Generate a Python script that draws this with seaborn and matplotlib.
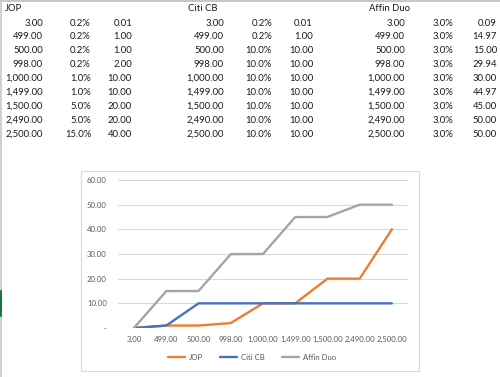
import pandas as pd
import matplotlib.pyplot as plt
import seaborn as sns
from matplotlib.lines import Line2D
from matplotlib.patches import Rectangle

# ---------------------------------------------------------------
# Daten (aus der Tabelle abgelesen)
# ---------------------------------------------------------------
amount_labels = ["3.00", "499.00", "500.00", "998.00", "1,000.00",
                 "1,499.00", "1,500.00", "2,490.00", "2,500.00"]

jop_rate = ["0.2%", "0.2%", "0.2%", "0.2%", "1.0%", "1.0%", "5.0%", "5.0%", "15.0%"]
jop_cb = [0.01, 1.00, 1.00, 2.00, 10.00, 10.00, 20.00, 20.00, 40.00]

citi_rate = ["0.2%", "0.2%", "10.0%", "10.0%", "10.0%", "10.0%", "10.0%", "10.0%", "10.0%"]
citi_cb = [0.01, 1.00, 10.00, 10.00, 10.00, 10.00, 10.00, 10.00, 10.00]

affin_rate = ["3.0%"] * 9
affin_cb = [0.09, 14.97, 15.00, 29.94, 30.00, 44.97, 45.00, 50.00, 50.00]

series_names = ["JOP", "Citi CB", "Affin Duo"]
series_colors = {"JOP": "#ED7D31", "Citi CB": "#4472C4", "Affin Duo": "#A5A5A5"}
y_ticks = [0, 10, 20, 30, 40, 50, 60]

# ---------------------------------------------------------------
# Figur
# ---------------------------------------------------------------
sns.set_theme(style="white")
plt.rcParams['font.family'] = ['Lato', 'DejaVu Sans']

W, H = 500, 377
fig = plt.figure(figsize=(5.0, 3.77), dpi=100)
fig.patch.set_facecolor("white")

def fx(px):
    return px / W

def fy(py):
    return 1 - py / H

txt_col = "#1a1a1a"
fs = 6.8

# Tabelle als Text
blocks = [
    ("JOP", 5, [43, 91, 132], jop_rate, jop_cb),
    ("Citi CB", 188, [224, 272, 313], citi_rate, citi_cb),
    ("Affin Duo", 369, [405, 453, 497], affin_rate, affin_cb),
]
row_y = [23, 36.5, 50.5, 64.5, 78.5, 92.5, 106.5, 120.5, 134.5]
for name, lx, cols, rates, cbs in blocks:
    fig.text(fx(lx), fy(8.5), name, ha="left", va="center", fontsize=fs, color=txt_col)
    for i, y in enumerate(row_y):
        fig.text(fx(cols[0]), fy(y), amount_labels[i], ha="right", va="center", fontsize=fs, color=txt_col)
        fig.text(fx(cols[1]), fy(y), rates[i], ha="right", va="center", fontsize=fs, color=txt_col)
        fig.text(fx(cols[2]), fy(y), f"{cbs[i]:,.2f}", ha="right", va="center", fontsize=fs, color=txt_col)

# Tabellenrand (Excel)
fig.add_artist(Line2D([0, 1], [fy(0.5), fy(0.5)], color="#BDBDBD", lw=1.2))
fig.add_artist(Line2D([fx(0.8), fx(0.8)], [0, 1], color="#C8C8C8", lw=1.2))
fig.add_artist(Line2D([fx(0.8), fx(0.8)], [fy(291), fy(316)], color="#217346", lw=1.5))

# Diagrammrahmen
fig.add_artist(Rectangle((fx(81), fy(371)), fx(419) - fx(81), fy(171) - fy(371),
                         transform=fig.transFigure, facecolor="white",
                         edgecolor="#D9D9D9", lw=0.8, zorder=0))

# Daten in langes Format
df = pd.DataFrame({
    "pos": list(range(len(amount_labels))) * 3,
    "cashback": jop_cb + citi_cb + affin_cb,
    "card": sum([[n] * len(amount_labels) for n in series_names], []),
})

ax = fig.add_axes([fx(118), fy(328), fx(408) - fx(118), fy(180) - fy(328)])
ax.set_facecolor("none")
sns.lineplot(data=df, x="pos", y="cashback", hue="card", hue_order=series_names,
             palette=series_colors, linewidth=1.7, ax=ax, legend=False)

ax.set_xlim(-0.5, len(amount_labels) - 0.5)
ax.set_ylim(0, 60)
ax.set_yticks(y_ticks)
ax.set_yticklabels(["-" if v == 0 else f"{v:.2f}" for v in y_ticks])
ax.set_xticks(range(len(amount_labels)))
ax.set_xticklabels(amount_labels)
ax.tick_params(axis="both", length=0, labelsize=5.6, labelcolor="#595959")
ax.tick_params(axis="y", pad=8)
ax.tick_params(axis="x", pad=6)
ax.yaxis.grid(True, color="#D9D9D9", lw=0.8)
ax.set_axisbelow(True)
for s in ax.spines.values():
    s.set_visible(False)
ax.set_xlabel("")
ax.set_ylabel("")

handles = [Line2D([], [], color=series_colors[n], lw=1.7) for n in series_names]
fig.legend(handles, series_names, loc="center", bbox_to_anchor=(fx(252), fy(357)),
           ncol=3, frameon=False, fontsize=5.6, handlelength=2.2, columnspacing=2.2,
           handletextpad=0.5, labelcolor="#595959")

fig.savefig("out.png", dpi=100)
